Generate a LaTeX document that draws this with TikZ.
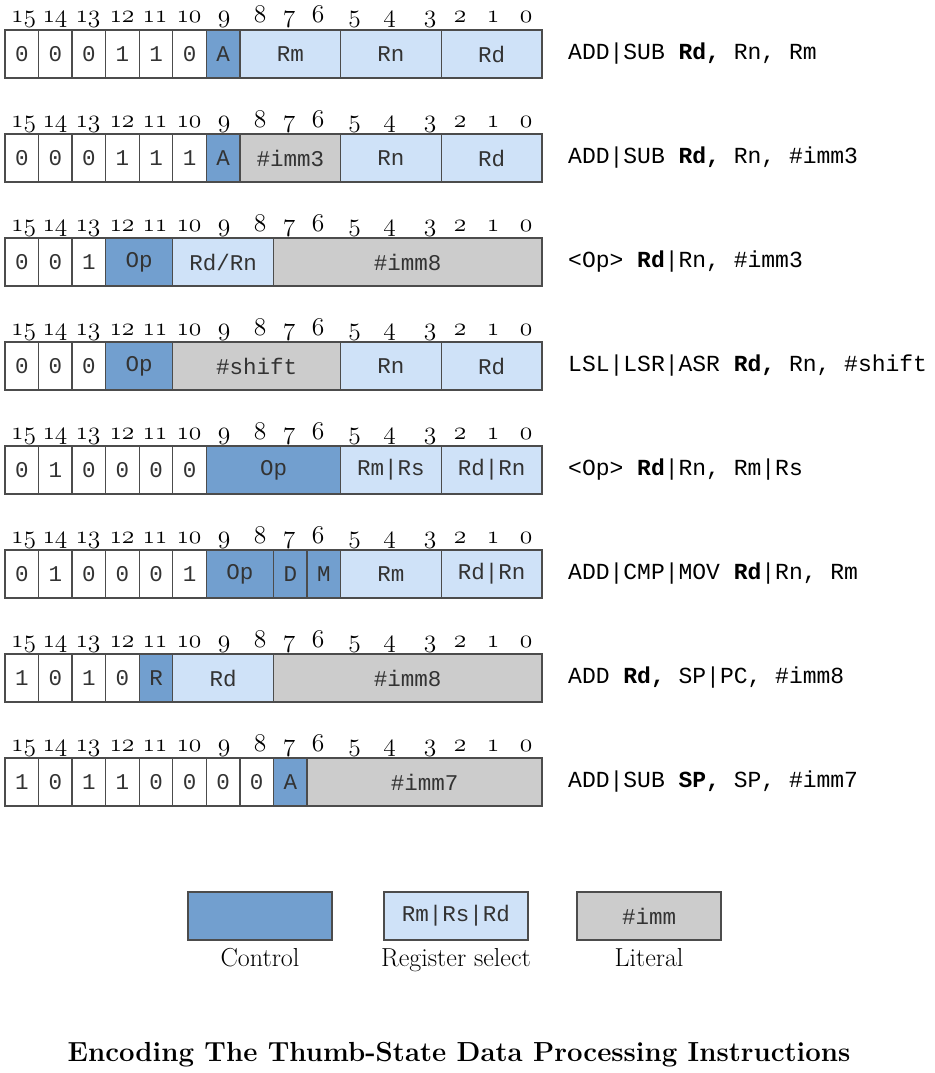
\documentclass[tikz,border=0pt]{standalone}
\usepackage{fix-cm}
\usepackage{fontspec}
\setmonofont{Liberation Mono}
\usetikzlibrary{positioning}

\definecolor{ctrlblue}{HTML}{729FCF}
\definecolor{regblue}{HTML}{CFE2F8}
\definecolor{litgray}{HTML}{CCCCCC}

\tikzset{
	cell/.style={draw=black!70, line width=1.3pt, inner sep=0pt, outer sep=0pt, anchor=north west,
		minimum height=48pt, font=\fontsize{22.5}{22.5}\selectfont\ttfamily, text=black!80}
}
\tikzset{
	bitcell/.style={cell, fill=white},
	ctrlcell/.style={cell, fill=ctrlblue},
	regcell/.style={cell, fill=regblue},
	litcell/.style={cell, fill=litgray}
}
\tikzset{
	bitnum/.style={anchor=base, inner sep=0pt, font=\fontsize{25.5}{25.5}\usefont{OML}{cmm}{m}{it}},
	asmtext/.style={anchor=west, inner sep=0pt, font=\fontsize{23}{23}\selectfont\ttfamily},
	keytext/.style={inner sep=0pt, font=\fontsize{26}{26}\selectfont}
}

% one field of an encoding: name, style, row, high bit, low bit, text
\newcommand{\encfield}[6]{%
	\node[#2, minimum width={(#4-#5+1)*33.5625pt}] (#1) at ({5+(15-#4)*33.5625},{30+(#3-1)*104}) {#6};}

\begin{document}
\begin{tikzpicture}[x=1pt, y=-1pt]
	\useasboundingbox (0,0) rectangle (934,1073);

	% bit numbers above every row
	\foreach \r in {1,...,8}
		\foreach \b/\x in {15/23.6,14/55,13/88,12/122,11/155,10/189,9/224,8/260,7/289,6/318,5/354.5,4/389.6,3/430,2/460,1/493,0/526}
			\node[bitnum] (num\r-\b) at (\x,{30+(\r-1)*104-7}) {\b};

	% ADD|SUB register
	\foreach \b/\v in {15/0,14/0,13/0,12/1,11/1,10/0} {\encfield{r1b\b}{bitcell}{1}{\b}{\b}{\v}}
	\encfield{r1a}{ctrlcell}{1}{9}{9}{A}
	\encfield{r1rm}{regcell}{1}{8}{6}{Rm}
	\encfield{r1rn}{regcell}{1}{5}{3}{Rn}
	\encfield{r1rd}{regcell}{1}{2}{0}{Rd}
	\node[asmtext, right=26pt of r1rd] (asm1) {ADD|SUB \textbf{Rd,} Rn, Rm};

	% ADD|SUB immediate
	\foreach \b/\v in {15/0,14/0,13/0,12/1,11/1,10/1} {\encfield{r2b\b}{bitcell}{2}{\b}{\b}{\v}}
	\encfield{r2a}{ctrlcell}{2}{9}{9}{A}
	\encfield{r2imm}{litcell}{2}{8}{6}{\#imm3}
	\encfield{r2rn}{regcell}{2}{5}{3}{Rn}
	\encfield{r2rd}{regcell}{2}{2}{0}{Rd}
	\node[asmtext, right=26pt of r2rd] (asm2) {ADD|SUB \textbf{Rd,} Rn, \#imm3};

	% MOV|CMP|ADD|SUB immediate
	\foreach \b/\v in {15/0,14/0,13/1} {\encfield{r3b\b}{bitcell}{3}{\b}{\b}{\v}}
	\encfield{r3op}{ctrlcell}{3}{12}{11}{Op}
	\encfield{r3rd}{regcell}{3}{10}{8}{Rd/Rn}
	\encfield{r3imm}{litcell}{3}{7}{0}{\#imm8}
	\node[asmtext, right=26pt of r3imm] (asm3) {<Op> \textbf{Rd}|Rn, \#imm3};

	% shift by immediate
	\foreach \b/\v in {15/0,14/0,13/0} {\encfield{r4b\b}{bitcell}{4}{\b}{\b}{\v}}
	\encfield{r4op}{ctrlcell}{4}{12}{11}{Op}
	\encfield{r4sh}{litcell}{4}{10}{6}{\#shift}
	\encfield{r4rn}{regcell}{4}{5}{3}{Rn}
	\encfield{r4rd}{regcell}{4}{2}{0}{Rd}
	\node[asmtext, right=26pt of r4rd] (asm4) {LSL|LSR|ASR \textbf{Rd,} Rn, \#shift};

	% register ALU ops
	\foreach \b/\v in {15/0,14/1,13/0,12/0,11/0,10/0} {\encfield{r5b\b}{bitcell}{5}{\b}{\b}{\v}}
	\encfield{r5op}{ctrlcell}{5}{9}{6}{Op}
	\encfield{r5rm}{regcell}{5}{5}{3}{Rm|Rs}
	\encfield{r5rd}{regcell}{5}{2}{0}{Rd|Rn}
	\node[asmtext, right=26pt of r5rd] (asm5) {<Op> \textbf{Rd}|Rn, Rm|Rs};

	% high registers
	\foreach \b/\v in {15/0,14/1,13/0,12/0,11/0,10/1} {\encfield{r6b\b}{bitcell}{6}{\b}{\b}{\v}}
	\encfield{r6op}{ctrlcell}{6}{9}{8}{Op}
	\encfield{r6d}{ctrlcell}{6}{7}{7}{D}
	\encfield{r6m}{ctrlcell}{6}{6}{6}{M}
	\encfield{r6rm}{regcell}{6}{5}{3}{Rm}
	\encfield{r6rd}{regcell}{6}{2}{0}{Rd|Rn}
	\node[asmtext, right=26pt of r6rd] (asm6) {ADD|CMP|MOV \textbf{Rd}|Rn, Rm};

	% address from SP|PC
	\foreach \b/\v in {15/1,14/0,13/1,12/0} {\encfield{r7b\b}{bitcell}{7}{\b}{\b}{\v}}
	\encfield{r7r}{ctrlcell}{7}{11}{11}{R}
	\encfield{r7rd}{regcell}{7}{10}{8}{Rd}
	\encfield{r7imm}{litcell}{7}{7}{0}{\#imm8}
	\node[asmtext, right=26pt of r7imm] (asm7) {ADD \textbf{Rd,} SP|PC, \#imm8};

	% adjust SP
	\foreach \b/\v in {15/1,14/0,13/1,12/1,11/0,10/0,9/0,8/0} {\encfield{r8b\b}{bitcell}{8}{\b}{\b}{\v}}
	\encfield{r8a}{ctrlcell}{8}{7}{7}{A}
	\encfield{r8imm}{litcell}{8}{6}{0}{\#imm7}
	\node[asmtext, right=26pt of r8imm] (asm8) {ADD|SUB \textbf{SP,} SP, \#imm7};

	% key
	\node[ctrlcell, minimum width=144pt] (keyctrl) at (188,892) {};
	\node[regcell, minimum width=144pt] (keyreg) at (384,892) {Rm|Rs|Rd};
	\node[litcell, minimum width=144pt] (keylit) at (577,892) {\#imm};
	\node[keytext, below=8pt of keyctrl] (keyctrltxt) {Control};
	\node[keytext, below=8pt of keyreg] (keyregtxt) {Register select};
	\node[keytext, below=8pt of keylit] (keylittxt) {Literal};

	\node[font=\bfseries\fontsize{27.6}{27.6}\selectfont] (title) at (459,1055) {Encoding The Thumb-State Data Processing Instructions};
\end{tikzpicture}
\end{document}
